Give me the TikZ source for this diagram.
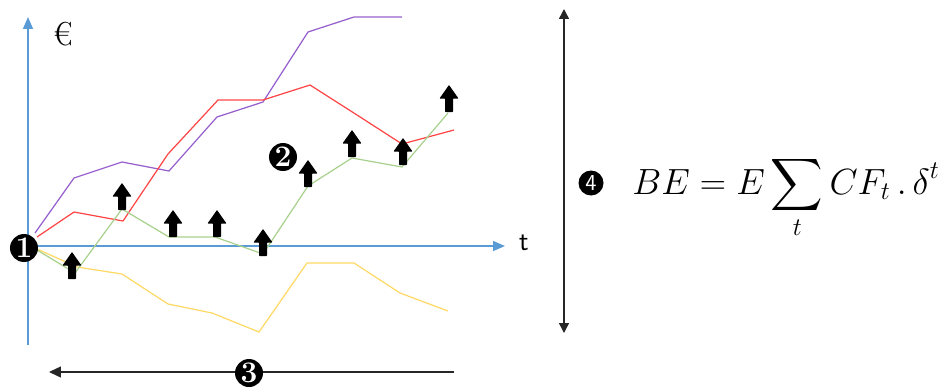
\documentclass[tikz,border=0pt]{standalone}
\usepackage{amsmath}
\usepackage{textcomp}
\usetikzlibrary{arrows.meta}
\definecolor{axisblue}{RGB}{91,155,213}
\definecolor{pathpurple}{RGB}{150,95,205}
\definecolor{pathred}{RGB}{255,70,70}
\definecolor{pathgreen}{RGB}{169,209,142}
\definecolor{pathyellow}{RGB}{255,217,102}
\tikzset{
	axis/.style={axisblue, line width=0.9pt, -{Triangle[length=0.24cm, width=0.2cm]}},
	scen/.style={line width=0.7pt},
	badge/.style={circle, fill=black, text=white, inner sep=0pt, minimum size=0.56cm,
		font=\bfseries\fontsize{17}{17}\selectfont},
	span/.style={line width=0.8pt, black!85},
	pics/uparr/.style={
		code={
			\fill[black, rounded corners=0.3pt] (0,0) -- (9.5,13.5) -- (4,13.5) -- (4,27)
				-- (-4,27) -- (-4,13.5) -- (-9.5,13.5) -- cycle;
		}
	}
}
\begin{document}
\begin{tikzpicture}[x=0.02cm, y=-0.02cm]
		\useasboundingbox (0,0) rectangle (947,389);
		
		% axes
		\coordinate (o) at (28,246);
		\coordinate (ybot) at (28,345);
		\coordinate (ytop) at (28,17);
		\coordinate (xend) at (505,246);
		\draw[axis] (ybot) -- (ytop);
		\draw[axis] (o) -- (xend);
		\node[font=\fontsize{19}{19}\selectfont] (eur) at (63,34) {\texteuro};
		\node[font=\sffamily\fontsize{16}{16}\selectfont] (tlab) at (524,243) {t};
		
		% scenarios
		\draw[scen, pathpurple] (35,233) -- (74,178) -- (122,162) -- (169,171) -- (217,117)
			-- (263,102) -- (308,32) -- (354,17) -- (402,17);
		\draw[scen, pathred] (37,237) -- (74,212) -- (123,221) -- (168,154) -- (218,100)
			-- (263,100) -- (310,85) -- (357,115) -- (402,144) -- (454,130);
		\draw[scen, pathyellow] (37,249) -- (77,267) -- (122,274) -- (168,304) -- (212,313)
			-- (259,332) -- (307,263) -- (354,263) -- (400,293) -- (448,311);
		\draw[scen, pathgreen] (37,250) -- (75,273) -- (122,209) -- (169,237) -- (215,237)
			-- (263,254) -- (308,186) -- (352,158) -- (402,167) -- (448,113);
		
		% cash flows
		\pic at (72,252) {uparr};
		\pic at (122,183) {uparr};
		\pic at (173,210) {uparr};
		\pic at (217,210) {uparr};
		\pic at (263,229) {uparr};
		\pic at (308,160) {uparr};
		\pic at (352,130) {uparr};
		\pic at (403,138) {uparr};
		\pic at (449,85) {uparr};
		
		% horizon
		\coordinate (hr) at (454,372);
		\coordinate (hl) at (49,372);
		\draw[span, -{Triangle[length=0.24cm, width=0.22cm]}] (hr) -- (hl);
		
		% vertical span
		\coordinate (vt) at (564,9);
		\coordinate (vb) at (564,333);
		\draw[span, {Triangle[length=0.2cm, width=0.2cm]}-{Triangle[length=0.2cm, width=0.2cm]}] (vt) -- (vb);
		
		% badges
		\node[badge] (n1) at (24,248) {1};
		\node[badge] (n2) at (283,157) {2};
		\node[badge] (n3) at (249,373) {3};
		\node[badge, minimum size=0.5cm, font=\sffamily\fontsize{13}{13}\selectfont] (n4) at (591,183) {4};
		
		% formula
		\node[anchor=base west, inner sep=0pt] (be) at (632,194)
			{\fontsize{21}{25}\selectfont $\displaystyle BE = E\sum_t CF_t\,.\,\delta^t$};
	\end{tikzpicture}
\end{document}
